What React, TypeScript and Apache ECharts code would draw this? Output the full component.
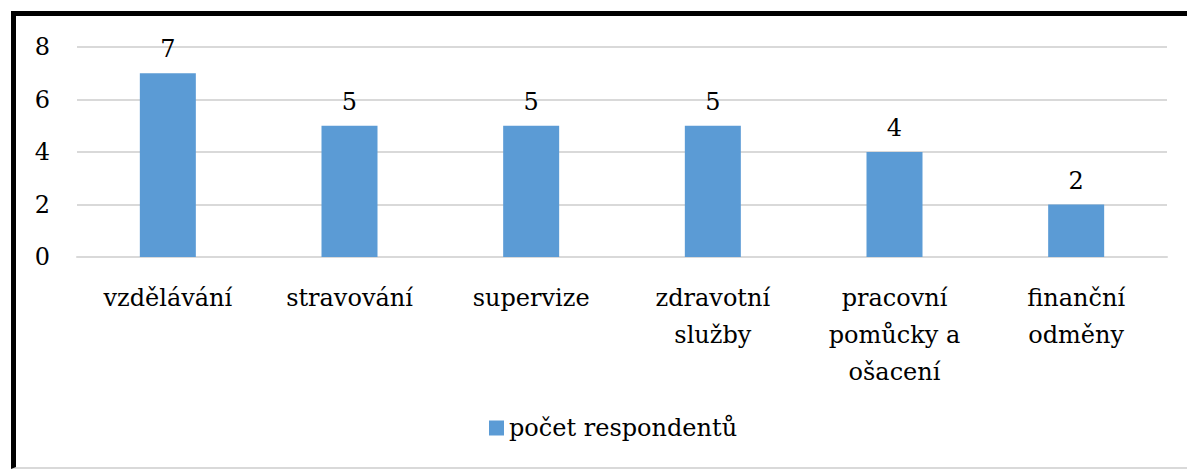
import React, { useEffect, useRef } from "react";
import * as echarts from "echarts";

const categories = [
  "vzdělávání",
  "stravování",
  "supervize",
  "zdravotní služby",
  "pracovní pomůcky a ošacení",
  "finanční odměny",
];
const values = [7, 5, 5, 5, 4, 2];
const seriesName = "počet respondentů";
const yTicks = [0, 2, 4, 6, 8];

const FONT = "DejaVu Serif";
const FS = 24;

function wrap(s: string, max: number) {
  const words = s.split(" ");
  const lines: string[] = [];
  let cur = "";
  for (const w of words) {
    if (!cur) cur = w;
    else if ((cur + " " + w).length <= max) cur = cur + " " + w;
    else {
      lines.push(cur);
      cur = w;
    }
  }
  if (cur) lines.push(cur);
  return lines.join("\n");
}

export default function App() {
  const ref = useRef<HTMLDivElement>(null);
  useEffect(() => {
    if (!ref.current) return;
    const chart = echarts.init(ref.current, null, { renderer: "svg" });
    chart.setOption({
      animation: false,
      textStyle: { fontFamily: FONT },
      grid: { left: 77, right: 20, top: 47, bottom: 214, containLabel: false },
      legend: {
        data: [seriesName],
        bottom: 26,
        left: 484,
        itemWidth: 15,
        itemHeight: 15,
        icon: "rect",
        textStyle: { fontFamily: FONT, fontSize: FS, color: "#000" },
      },
      xAxis: {
        type: "category",
        data: categories,
        axisLine: { show: true, lineStyle: { color: "#d9d9d9", width: 2 } },
        axisTick: { show: false },
        axisLabel: {
          interval: 0,
          margin: 22,
          color: "#000",
          fontFamily: FONT,
          fontSize: FS,
          lineHeight: 37,
          formatter: (v: string) => wrap(v, 10),
        },
      },
      yAxis: {
        type: "value",
        min: yTicks[0],
        max: yTicks[yTicks.length - 1],
        interval: 2,
        axisLine: { show: false },
        axisTick: { show: false },
        splitLine: { lineStyle: { color: "#d9d9d9", width: 2 } },
        axisLabel: {
          margin: 27,
          color: "#000",
          fontFamily: FONT,
          fontSize: FS,
        },
      },
      series: [
        {
          name: seriesName,
          type: "bar",
          data: values,
          barWidth: 56,
          itemStyle: { color: "#5b9bd5" },
          label: {
            show: true,
            position: "top",
            distance: 12,
            color: "#000",
            fontFamily: FONT,
            fontSize: FS,
          },
        },
      ],
    });
    return () => chart.dispose();
  }, []);

  return (
    <div style={{ position: "fixed", left: 0, top: 0, width: 1187, height: 471, background: "#fff" }}>
      <div
        style={{
          position: "absolute",
          left: 11,
          top: 11,
          width: 1176,
          height: 458,
          borderLeft: "5px solid #000",
          borderTop: "5px solid #000",
          borderBottom: "2px solid #d9d9d9",
          boxSizing: "border-box",
        }}
      />
      <div ref={ref} style={{ position: "absolute", left: 0, top: 0, width: 1187, height: 471 }} />
    </div>
  );
}
